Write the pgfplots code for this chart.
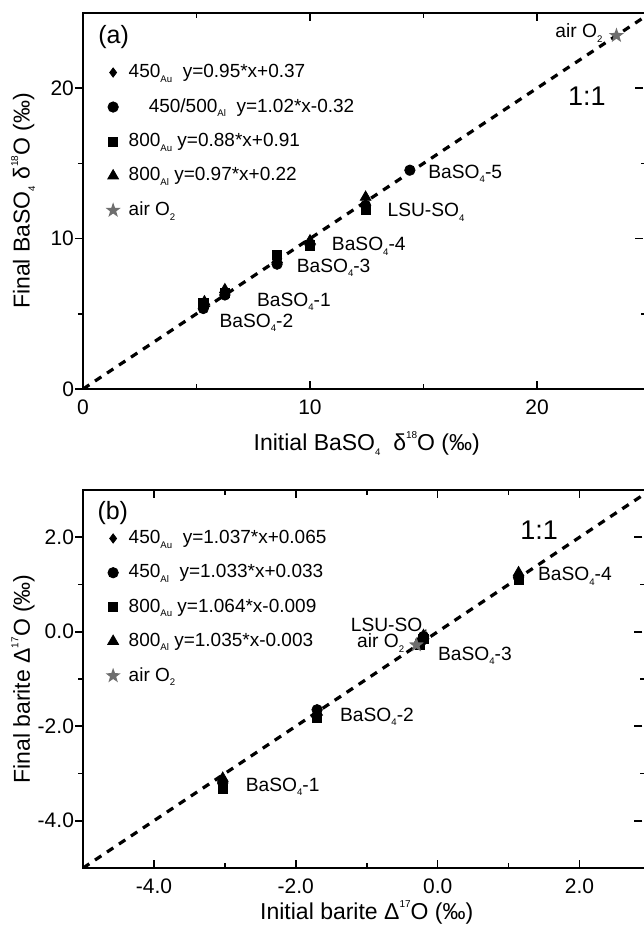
\documentclass[border=0pt]{standalone}
\usepackage{pgfplots}
\pgfplotsset{compat=1.18}
\usepackage{fontspec}
\setmainfont{Liberation Sans}
\newcommand{\lo}[1]{\raisebox{-0.45ex}{\fontsize{4.8}{5}\selectfont #1}}
\newcommand{\hi}[1]{\raisebox{0.95ex}{\fontsize{5}{5}\selectfont #1}}
\definecolor{stargray}{RGB}{110,110,110}

% filled five-pointed star
\pgfdeclareplotmark{fstar}{%
  \pgfpathmoveto{\pgfqpointpolar{90}{\pgfplotmarksize}}%
  \pgfpathlineto{\pgfqpointpolar{126}{0.4\pgfplotmarksize}}%
  \pgfpathlineto{\pgfqpointpolar{162}{\pgfplotmarksize}}%
  \pgfpathlineto{\pgfqpointpolar{198}{0.4\pgfplotmarksize}}%
  \pgfpathlineto{\pgfqpointpolar{234}{\pgfplotmarksize}}%
  \pgfpathlineto{\pgfqpointpolar{270}{0.4\pgfplotmarksize}}%
  \pgfpathlineto{\pgfqpointpolar{306}{\pgfplotmarksize}}%
  \pgfpathlineto{\pgfqpointpolar{342}{0.4\pgfplotmarksize}}%
  \pgfpathlineto{\pgfqpointpolar{18}{\pgfplotmarksize}}%
  \pgfpathlineto{\pgfqpointpolar{54}{0.4\pgfplotmarksize}}%
  \pgfpathclose
  \pgfusepathqfill}

\tikzset{lab/.style={font=\fontsize{9.6}{11}\selectfont, anchor=west, inner sep=0pt}}
\pgfplotsset{
  panel/.style={
    scale only axis, width=283.75pt,
    axis line style={line width=1.1pt},
    tick align=inside,
    major tick length=4pt, minor tick length=2.5pt,
    every tick/.style={black, line width=0.8pt},
    % left ticks point outwards, as in the original
    major y tick style={xshift=-4pt},
    minor y tick style={xshift=-2.5pt},
    minor tick num=1,
    /pgf/number format/assume math mode=true,
    tick label style={font=\fontsize{10.5}{12}\selectfont},
    xticklabel style={yshift=-2pt},
    yticklabel style={xshift=-1pt},
    label style={font=\fontsize{11.5}{13}\selectfont},
    ylabel style={at={(axis description cs:-0.1057,0.5)}, anchor=center},
    legend cell align=left,
    legend image code/.code={\draw[##1] plot coordinates {(0pt,0pt)};},
    legend style={draw=none, fill=none, inner sep=0pt, row sep=5pt,
      font=\fontsize{9.5}{11}\selectfont,
      /tikz/every odd column/.append style={column sep=2pt}},
  },
  s1/.style={only marks, mark=diamond*, mark size=2.3pt, black},
  s2/.style={only marks, mark=*, mark size=2.6pt, black},
  s3/.style={only marks, mark=square*, mark size=2.3pt, black},
  s4/.style={only marks, mark=triangle*, mark size=3.1pt, black},
  s5/.style={only marks, mark=fstar, mark size=4pt, stargray},
  oneone/.style={black, line width=1.6pt, dash pattern=on 3.8pt off 3.4pt, forget plot},
}

\begin{document}
\begin{tikzpicture}
\useasboundingbox (-41.5pt,-268pt) rectangle (280pt,194.5pt);

% panel (a)
\begin{axis}[panel, height=188pt, at={(0,0)}, anchor=south west,
  xmin=0, xmax=25, ymin=0, ymax=25,
  xtick={0,10,20}, ytick={0,10,20},
  xlabel={Initial BaSO\lo{4}\ \ δ\hi{18}O (‰)},
  ylabel={Final BaSO\lo{4} δ\hi{18}O (‰)},
  xlabel style={at={(axis description cs:0.5,-0.146)}, anchor=center},
  legend style={at={(axis description cs:0.039,0.875)}, anchor=north west},
]
\addplot[oneone] coordinates {(0,0) (25,25)};
\addplot[s1] coordinates {(5.3,5.45) (6.25,6.35) (8.55,8.45) (10.0,9.7) (12.45,12.3)};
\addplot[s2] coordinates {(5.3,5.35) (6.25,6.25) (8.55,8.3) (10.0,9.6) (12.45,12.2) (14.4,14.55)};
\addplot[s3] coordinates {(5.3,5.7) (6.25,6.4) (8.55,8.9) (10.0,9.55) (12.45,11.9)};
\addplot[s4] coordinates {(5.35,5.8) (6.25,6.6) (8.55,8.6) (10.0,9.85) (12.45,12.75)};
\addplot[s5] coordinates {(23.5,23.5)};
\legend{450\lo{Au}\ \ y=0.95*x+0.37,
  \hspace{10pt}450/500\lo{Al}\ \ y=1.02*x-0.32,
  800\lo{Au} y=0.88*x+0.91,
  800\lo{Al} y=0.97*x+0.22,
  air O\lo{2}}
\node[font=\fontsize{12.5}{14}\selectfont] at (axis cs:1.35,23.4) {(a)};
\node[font=\fontsize{13.5}{15}\selectfont] at (axis cs:22.2,19.5) {1:1};
\node[lab] at (axis cs:15.2,14.3) {BaSO\lo{4}-5};
\node[lab] at (axis cs:13.4,11.75) {LSU-SO\lo{4}};
\node[lab] at (axis cs:10.95,9.5) {BaSO\lo{4}-4};
\node[lab] at (axis cs:9.4,8.05) {BaSO\lo{4}-3};
\node[lab] at (axis cs:7.65,5.8) {BaSO\lo{4}-1};
\node[lab] at (axis cs:6.0,4.4) {BaSO\lo{4}-2};
\node[lab, anchor=east] at (axis cs:22.9,23.65) {air O\lo{2}};
\end{axis}

% panel (b)
\begin{axis}[panel, height=189pt, at={(0,-239.5pt)}, anchor=south west,
  xmin=-5, xmax=3, ymin=-5, ymax=3,
  xtick={-4,-2,0,2}, ytick={-4,-2,0,2},
  /pgf/number format/.cd, fixed, fixed zerofill, precision=1, /pgfplots/.cd,
  xlabel={Initial barite Δ\hi{17}O (‰)},
  ylabel={Final barite Δ\hi{17}O (‰)},
  xlabel style={at={(axis description cs:0.5,-0.118)}, anchor=center},
  legend style={at={(axis description cs:0.039,0.905)}, anchor=north west},
]
\addplot[oneone] coordinates {(-5,-5) (3,3)};
\addplot[s1] coordinates {(-3.03,-3.2) (-1.7,-1.72) (-0.25,-0.22) (-0.2,-0.12) (1.14,1.2)};
\addplot[s2] coordinates {(-3.03,-3.2) (-1.7,-1.65) (-0.25,-0.22) (-0.2,-0.1) (1.14,1.15)};
\addplot[s3] coordinates {(-3.03,-3.32) (-1.7,-1.82) (-0.25,-0.28) (-0.2,-0.15) (1.14,1.1)};
\addplot[s4] coordinates {(-3.03,-3.1) (-1.7,-1.7) (-0.25,-0.2) (-0.2,-0.08) (1.14,1.25)};
\addplot[s5] coordinates {(-0.3,-0.28)};
\legend{450\lo{Au}\ \ y=1.037*x+0.065,
  450\lo{Al}\ \ y=1.033*x+0.033,
  800\lo{Au} y=1.064*x-0.009,
  800\lo{Al} y=1.035*x-0.003,
  air O\lo{2}}
\node[font=\fontsize{12.5}{14}\selectfont] at (axis cs:-4.58,2.52) {(b)};
\node[font=\fontsize{13.5}{15}\selectfont] at (axis cs:1.43,2.14) {1:1};
\node[lab] at (axis cs:1.41,1.17) {BaSO\lo{4}-4};
\node[lab] at (axis cs:-1.23,0.1) {LSU-SO\lo{4}};
\node[lab] at (axis cs:-1.14,-0.24) {air O\lo{2}};
\node[lab] at (axis cs:0.0,-0.51) {BaSO\lo{4}-3};
\node[lab] at (axis cs:-1.38,-1.8) {BaSO\lo{4}-2};
\node[lab] at (axis cs:-2.71,-3.28) {BaSO\lo{4}-1};
\end{axis}
\end{tikzpicture}
\end{document}
